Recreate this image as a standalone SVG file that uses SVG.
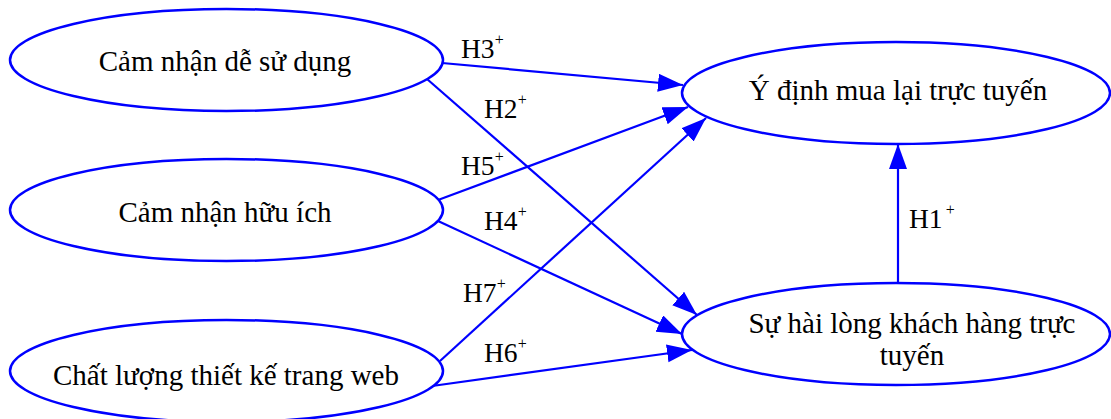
<svg xmlns="http://www.w3.org/2000/svg" width="1111" height="419" viewBox="0 0 1111 419">
  <style>
    .node ellipse { fill: #ffffff; stroke: #0000ff; stroke-width: 2.5; }
    .node text { font-family: "Liberation Serif", "Times New Roman", serif; font-size: 29px; fill: #000000; text-anchor: middle; }
    .edge line { stroke: #0000ff; stroke-width: 2.2; fill: none; }
    .lbl { font-family: "Liberation Serif", "Times New Roman", serif; font-size: 27.5px; fill: #000000; }
    .sup { font-size: 16px; }
  </style>
  <defs>
    <marker id="arrow" markerUnits="userSpaceOnUse" markerWidth="26" markerHeight="20" refX="25" refY="9" orient="auto">
      <path d="M0,0 L25,9 L0,18 z" fill="#0000ff"/>
    </marker>
  </defs>
  <rect width="1111" height="419" fill="#ffffff"/>

  <!-- connectors -->
  <g id="edges" class="edge">
    <line x1="442" y1="63" x2="683" y2="85" marker-end="url(#arrow)"/>
    <line x1="427" y1="79" x2="697" y2="315" marker-end="url(#arrow)"/>
    <line x1="438" y1="200" x2="688" y2="107" marker-end="url(#arrow)"/>
    <line x1="438" y1="221" x2="682" y2="334" marker-end="url(#arrow)"/>
    <line x1="440" y1="361" x2="706" y2="118" marker-end="url(#arrow)"/>
    <line x1="432" y1="386" x2="692" y2="350" marker-end="url(#arrow)"/>
    <line x1="898" y1="283" x2="898" y2="144" marker-end="url(#arrow)"/>
  </g>

  <!-- hypothesis labels -->
  <g id="labels">
    <text class="lbl" x="461" y="58">H3<tspan class="sup" dy="-13">+</tspan></text>
    <text class="lbl" x="484" y="118">H2<tspan class="sup" dy="-13">+</tspan></text>
    <text class="lbl" x="461" y="175">H5<tspan class="sup" dy="-13">+</tspan></text>
    <text class="lbl" x="484" y="230">H4<tspan class="sup" dy="-13">+</tspan></text>
    <text class="lbl" x="463" y="302">H7<tspan class="sup" dy="-13">+</tspan></text>
    <text class="lbl" x="484" y="362">H6<tspan class="sup" dy="-13">+</tspan></text>
    <text class="lbl" x="909" y="228">H1<tspan class="sup" dx="3" dy="-13">+</tspan></text>
  </g>

  <g id="node-de-su-dung" class="node">
    <ellipse cx="226.5" cy="60" rx="216.5" ry="51"/>
    <text x="225" y="71">Cảm nhận dễ sử dụng</text>
  </g>
  <g id="node-huu-ich" class="node">
    <ellipse cx="226.5" cy="210" rx="216.5" ry="51"/>
    <text x="225" y="222">Cảm nhận hữu ích</text>
  </g>
  <g id="node-thiet-ke-web" class="node">
    <ellipse cx="226.5" cy="371" rx="216.5" ry="51"/>
    <text x="226" y="385">Chất lượng thiết kế trang web</text>
  </g>
  <g id="node-y-dinh" class="node">
    <ellipse cx="896" cy="93" rx="214" ry="51"/>
    <text x="898" y="100">Ý định mua lại trực tuyến</text>
  </g>
  <g id="node-hai-long" class="node">
    <ellipse cx="896" cy="334" rx="214" ry="51"/>
    <text x="912" y="333">Sự hài lòng khách hàng trực</text>
    <text x="912" y="365">tuyến</text>
  </g>
</svg>
